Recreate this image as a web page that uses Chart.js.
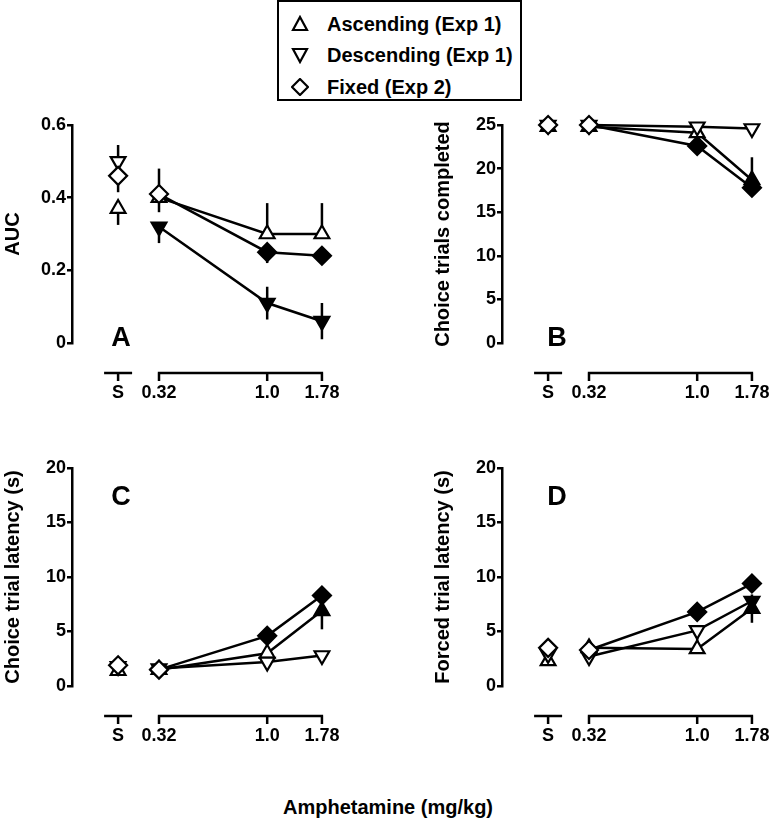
<!DOCTYPE html>
<html><head><meta charset="utf-8">
<script src="https://cdn.jsdelivr.net/npm/chart.js@4"></script>
<style>
body{margin:0;width:776px;height:829px;background:#fff;position:relative;overflow:hidden;font-family:"Liberation Sans",Arial,sans-serif;color:#000;}
.panel{position:absolute;width:388px;height:320px;}
.letter{position:absolute;font-weight:bold;font-size:27px;line-height:1;transform:translate(-50%,-50%);}
#legend{position:absolute;left:277px;top:0;width:241px;height:97px;border:2px solid #000;}
.row{position:absolute;left:0;height:24px;width:240px;}
.row svg{position:absolute;left:12px;top:3px;}
.row span{position:absolute;left:48px;top:0;font-weight:bold;font-size:20px;line-height:24px;white-space:nowrap;}
#xtitle{position:absolute;left:388px;top:807px;transform:translate(-50%,-50%);font-weight:bold;font-size:20px;white-space:nowrap;}
</style></head>
<body>
<div id="legend">
  <div class="row" style="top:10px"><svg width="18" height="18"><polygon points="9,2 16,15 2,15" fill="#fff" stroke="#000" stroke-width="2.2"/></svg><span>Ascending (Exp 1)</span></div>
  <div class="row" style="top:41px"><svg width="18" height="18"><polygon points="2,3 16,3 9,16" fill="#fff" stroke="#000" stroke-width="2.2"/></svg><span>Descending (Exp 1)</span></div>
  <div class="row" style="top:73px"><svg width="18" height="18"><polygon points="9,1 17,9 9,17 1,9" fill="#fff" stroke="#000" stroke-width="2.2"/></svg><span>Fixed (Exp 2)</span></div>
</div>
<div class="panel" style="left:0;top:100px"><canvas id="cA"></canvas></div>
<div class="panel" style="left:430px;top:100px"><canvas id="cB"></canvas></div>
<div class="panel" style="left:0;top:443px"><canvas id="cC"></canvas></div>
<div class="panel" style="left:430px;top:443px"><canvas id="cD"></canvas></div>
<div class="letter" style="left:121px;top:337px">A</div>
<div class="letter" style="left:557px;top:337px">B</div>
<div class="letter" style="left:121px;top:496px">C</div>
<div class="letter" style="left:557px;top:496px">D</div>
<div id="xtitle">Amphetamine (mg/kg)</div>
<script>
// x positions (S = saline placed left of the first dose)
const xDoses = [0.208, 0.32, 1.0, 1.78];
const xTickLabels = ['S', '0.32', '1.0', '1.78'];

// Panel A: AUC
const aAsc  = [0.37, 0.40, 0.30, 0.30];
const aDesc = [0.50, 0.32, 0.11, 0.06];
const aFix  = [0.46, 0.41, 0.25, 0.24];
const aAscErr  = [[0,0.045],[0,0.04],[0.085,0],[0.085,0]];
const aDescErr = [[0.045,0],[0,0.045],[0.045,0.045],[0.05,0.05]];
const aFixErr  = [[0,0.045],[0.07,0],[0,0.03],[0,0.02]];
const aAscSig  = [0,0,0,0];
const aDescSig = [0,1,1,1];
const aFixSig  = [0,0,1,1];

// Panel B: Choice trials completed
const bAsc  = [24.8, 24.8, 24.1, 18.7];
const bDesc = [25.0, 25.0, 24.8, 24.6];
const bFix  = [25.0, 25.0, 22.6, 17.8];
const bAscErr  = [[0,0],[0,0],[0,0],[2.6,0]];
const bDescErr = [[0,0],[0,0],[0,0],[0,0]];
const bFixErr  = [[0,0],[0,0],[0,0],[0,0]];
const bAscSig  = [0,0,0,1];
const bDescSig = [0,0,0,0];
const bFixSig  = [0,0,1,1];

// Panel C: Choice trial latency (s)
const cAsc  = [1.4, 1.5, 3.0, 6.9];
const cDesc = [1.8, 1.6, 2.2, 2.8];
const cFix  = [1.9, 1.5, 4.6, 8.3];
const cAscErr  = [[0,0],[0,0],[0,0],[0,1.7]];
const cDescErr = [[0,0],[0,0],[0,0],[0,0]];
const cFixErr  = [[0,0],[0,0],[0,0],[0,0]];
const cAscSig  = [0,0,0,1];
const cDescSig = [0,0,0,0];
const cFixSig  = [0,0,1,1];

// Panel D: Forced trial latency (s)
const dAsc  = [2.3, 3.5, 3.4, 7.1];
const dDesc = [2.9, 2.7, 5.1, 7.8];
const dFix  = [3.5, 3.3, 6.8, 9.4];
const dAscErr  = [[0,0],[0,0],[1.3,0],[0,1.3]];
const dDescErr = [[0,0],[0,0],[0,0],[0.6,0]];
const dFixErr  = [[0,0],[0,0],[0,0],[0,0]];
const dAscSig  = [0,0,0,1];
const dDescSig = [0,0,0,1];
const dFixSig  = [0,0,1,1];

const FONT = '"Liberation Sans", Arial, sans-serif';

const errPlugin = {
  id: 'errbars',
  beforeDatasetsDraw(chart) {
    const ctx = chart.ctx, xs = chart.scales.x, ys = chart.scales.y;
    ctx.save();
    ctx.strokeStyle = '#000'; ctx.lineWidth = 2.5;
    chart.data.datasets.forEach(ds => {
      ds.data.forEach((p, i) => {
        const e = ds.errs[i];
        const px = xs.getPixelForValue(p.x);
        const py = ys.getPixelForValue(p.y);
        ctx.beginPath();
        if (e[0] > 0) { ctx.moveTo(px, py); ctx.lineTo(px, ys.getPixelForValue(p.y + e[0])); }
        if (e[1] > 0) { ctx.moveTo(px, py); ctx.lineTo(px, ys.getPixelForValue(p.y - e[1])); }
        ctx.stroke();
      });
    });
    ctx.restore();
  }
};

const brokenAxis = {
  id: 'brokenAxis',
  afterDraw(chart) {
    const ctx = chart.ctx, xs = chart.scales.x;
    const y0 = chart.chartArea.bottom + 30;
    const p = xDoses.map(v => xs.getPixelForValue(v));
    ctx.save();
    ctx.strokeStyle = '#000'; ctx.lineWidth = 2.5; ctx.lineCap = 'butt';
    ctx.beginPath();
    ctx.moveTo(p[0] - 14, y0); ctx.lineTo(p[0] + 14, y0);
    ctx.moveTo(p[1] - 1.2, y0); ctx.lineTo(p[3] + 1.2, y0);
    p.forEach(px => { ctx.moveTo(px, y0); ctx.lineTo(px, y0 + 8); });
    ctx.stroke();
    ctx.restore();
  }
};

function ds(label, vals, errs, sig, style, rot) {
  return {
    label,
    data: xDoses.map((x, i) => ({ x, y: vals[i] })),
    errs,
    borderColor: '#000',
    borderWidth: 2.5,
    pointStyle: style,
    rotation: rot,
    pointRadius: style === 'rectRot' ? 9 : 8.5,
    pointBorderWidth: 2.2,
    pointBorderColor: '#000',
    pointBackgroundColor: sig.map(s => s ? '#000' : '#fff'),
    segment: { borderColor: c => c.p0DataIndex === 0 ? 'rgba(0,0,0,0)' : '#000' },
    tension: 0,
    clip: false
  };
}

function makePanel(id, title, yMax, step, asc, ascE, ascS, desc, descE, descS, fix, fixE, fixS) {
  new Chart(document.getElementById(id), {
    type: 'line',
    data: { datasets: [
      ds('Fixed (Exp 2)', fix, fixE, fixS, 'rectRot', 0),
      ds('Descending (Exp 1)', desc, descE, descS, 'triangle', 180),
      ds('Ascending (Exp 1)', asc, ascE, ascS, 'triangle', 0)
    ]},
    options: {
      responsive: false, animation: false, devicePixelRatio: 1,
      layout: { padding: { top: 25, right: 55, left: 0, bottom: 0 } },
      plugins: { legend: { display: false }, tooltip: { enabled: false } },
      scales: {
        x: {
          type: 'logarithmic', min: 0.128, max: 2.0,
          afterBuildTicks: s => { s.ticks = xDoses.map(v => ({ value: v })); },
          afterFit: s => { s.height = 77; },
          grid: { display: false }, border: { display: false },
          ticks: { autoSkip: false, maxRotation: 0, padding: 31, color: '#000',
                   font: { family: FONT, size: 18, weight: 'bold' },
                   callback: (v, i) => xTickLabels[i] }
        },
        y: {
          min: 0, max: yMax,
          afterFit: s => { s.width = 72; },
          ticks: { stepSize: step, padding: 1, color: '#000',
                   font: { family: FONT, size: 18, weight: 'bold' } },
          grid: { drawOnChartArea: false, drawTicks: true, tickLength: 5, color: '#000', lineWidth: 2.5 },
          border: { display: true, color: '#000', width: 2.5 },
          title: { display: true, text: title, color: '#000', padding: { top: 1, bottom: 0 },
                   font: { family: FONT, size: 20, weight: 'bold' } }
        }
      }
    },
    plugins: [errPlugin, brokenAxis]
  });
}

const W = 388, H = 320;
['cA','cB','cC','cD'].forEach(id => { const c = document.getElementById(id); c.width = W; c.height = H; c.style.width = W + 'px'; c.style.height = H + 'px'; });

makePanel('cA', 'AUC', 0.6, 0.2, aAsc, aAscErr, aAscSig, aDesc, aDescErr, aDescSig, aFix, aFixErr, aFixSig);
makePanel('cB', 'Choice trials completed', 25, 5, bAsc, bAscErr, bAscSig, bDesc, bDescErr, bDescSig, bFix, bFixErr, bFixSig);
makePanel('cC', 'Choice trial latency (s)', 20, 5, cAsc, cAscErr, cAscSig, cDesc, cDescErr, cDescSig, cFix, cFixErr, cFixSig);
makePanel('cD', 'Forced trial latency (s)', 20, 5, dAsc, dAscErr, dAscSig, dDesc, dDescErr, dDescSig, dFix, dFixErr, dFixSig);
</script>
</body></html>
